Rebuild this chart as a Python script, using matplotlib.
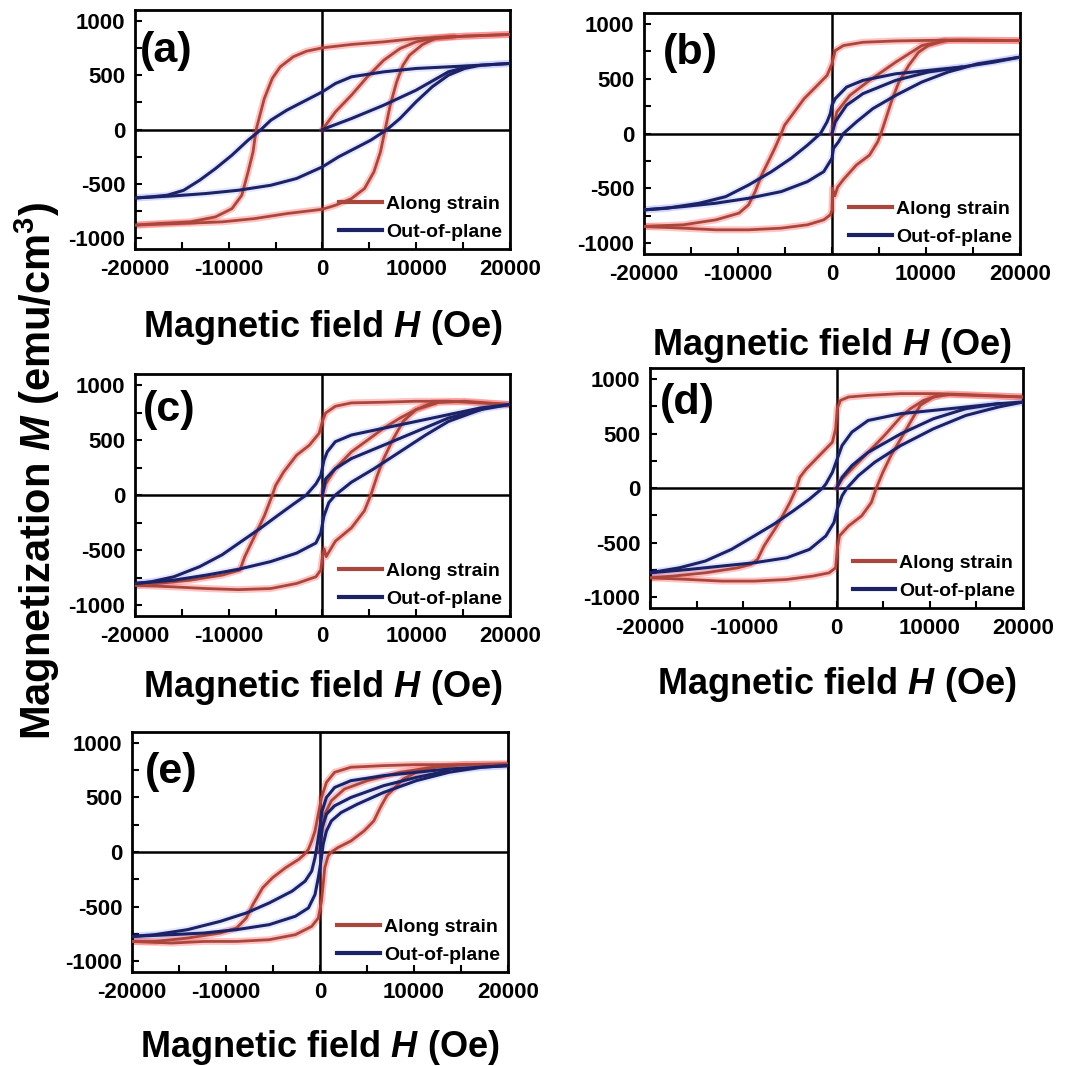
import numpy as np
import matplotlib.pyplot as plt
from matplotlib.lines import Line2D
from matplotlib.ticker import MultipleLocator

plt.rcParams['font.family'] = ['Liberation Sans', 'DejaVu Sans']
plt.rcParams['font.weight'] = 'bold'
plt.rcParams['axes.unicode_minus'] = False
plt.rcParams['mathtext.fontset'] = 'custom'
plt.rcParams['mathtext.rm'] = 'Liberation Sans:bold'
plt.rcParams['mathtext.it'] = 'Liberation Sans:italic:bold'
plt.rcParams['mathtext.bf'] = 'Liberation Sans:bold'

PANEL_LABELS = ['(a)', '(b)', '(c)', '(d)', '(e)']
SERIES_LABELS = ['Along strain', 'Out-of-plane']
X_TICKS = [-20000, -10000, 0, 10000, 20000]
Y_TICKS = [-1000, -500, 0, 500, 1000]

# (H [Oe], M [emu/cm3])
# panel (a)
A_RED_DOWN = [(20000, 875), (13450, 853), (10000, 838), (6550, 807), (3100, 783), (0, 752), (-1700, 721),
              (-3100, 670), (-4500, 577), (-5350, 470), (-6200, 285), (-7070, 0), (-7400, -206), (-7930, -390),
              (-8600, -605), (-9650, -728), (-11400, -804), (-14100, -850), (-17600, -866), (-20000, -880)]
A_RED_UP = [(-20000, -880), (-14100, -862), (-10700, -850), (-7240, -820), (-3800, -774), (0, -734), (1400, -697),
            (3100, -636), (4500, -543), (5500, -390), (6200, -206), (6700, 0), (7240, 224), (7930, 439),
            (8600, 592), (9300, 684), (10700, 783), (12070, 838), (15170, 860), (20000, 875)]
A_RED_INIT = [(0, 0), (1400, 163), (3100, 316), (4800, 485), (6550, 638), (8300, 746), (10000, 807),
              (11700, 838), (14000, 858)]
A_BLUE_DOWN = [(20000, 608), (16900, 592), (13450, 577), (10000, 562), (6550, 531), (3100, 485), (1400, 424),
               (0, 347), (-2070, 255), (-3800, 178), (-5500, 86), (-6550, 0), (-7930, -98), (-9650, -236),
               (-11400, -359), (-13100, -467), (-14800, -559), (-16550, -605), (-18300, -620), (-20000, -630)]
A_BLUE_UP = [(-20000, -630), (-15860, -611), (-12400, -589), (-8970, -559), (-5500, -513), (-2760, -451),
             (0, -344), (1720, -252), (3450, -175), (5170, -98), (6900, 0), (8280, 101), (10000, 255),
             (11720, 393), (13450, 500), (15170, 562), (16900, 592), (20000, 608)]
A_BLUE_INIT = [(0, 0), (3100, 101), (6550, 224), (10000, 362), (13450, 531), (15500, 577)]

# panel (b)
B_RED_DOWN = [(20000, 848), (13740, 855), (10260, 850), (6780, 845), (3300, 833), (1220, 803), (350, 757),
              (0, 636), (-520, 530), (-1560, 439), (-2960, 318), (-4000, 197), (-5040, 76), (-5390, 0),
              (-6090, -136), (-6780, -258), (-7480, -379), (-8170, -530), (-8870, -651), (-9900, -727),
              (-12350, -788), (-15800, -833), (-20000, -848)]
B_RED_UP = [(-20000, -848), (-15800, -864), (-12350, -879), (-8870, -879), (-5390, -864), (-2600, -833),
            (-870, -788), (-170, -742), (0, -700), (60, -500), (300, -570), (600, -490), (1220, -420),
            (2600, -288), (4000, -197), (4870, -76), (5220, 0), (5740, 136), (6430, 318), (7130, 470),
            (8170, 621), (9220, 742), (10260, 803), (12000, 848), (20000, 848)]
B_RED_INIT = [(0, 0), (520, 197), (1910, 348), (4000, 485), (6780, 651), (9570, 803), (12000, 845)]
B_BLUE_DOWN = [(20000, 697), (17200, 651), (13740, 606), (10260, 576), (6780, 545), (3300, 485), (1560, 424),
               (350, 318), (0, 258), (-170, 182), (-520, 106), (-1220, 0), (-2600, -106), (-4350, -227),
               (-6430, -348), (-8870, -470), (-11300, -576), (-14090, -636), (-17560, -682), (-20000, -697)]
B_BLUE_UP = [(-20000, -697), (-15830, -667), (-12350, -636), (-8870, -591), (-5390, -530), (-2610, -439),
             (-870, -348), (0, -227), (170, -136), (700, -76), (1220, 0), (2610, 106), (4350, 227),
             (6780, 348), (9570, 470), (12350, 561), (15480, 636), (20000, 697)]
B_BLUE_INIT = [(0, 0), (350, 106), (1560, 258), (3300, 364), (6780, 485), (10260, 561), (13740, 606)]

# panel (c)
C_RED_DOWN = [(20000, 823), (13450, 853), (10000, 853), (6550, 844), (3100, 838), (1380, 807), (345, 746),
              (0, 669), (-345, 562), (-1380, 454), (-2760, 362), (-4140, 209), (-5000, 86), (-5340, 0),
              (-6200, -190), (-7240, -375), (-8280, -559), (-8800, -682), (-10700, -728), (-14100, -774),
              (-17600, -804), (-20000, -820)]
C_RED_UP = [(-20000, -820), (-15860, -835), (-12400, -850), (-8970, -860), (-5520, -850), (-2760, -804),
            (-690, -743), (-170, -682), (0, -560), (200, -490), (400, -560), (1380, -420), (3100, -298),
            (4480, -144), (5170, 0), (5860, 178), (6550, 332), (7590, 516), (8620, 669), (10000, 777),
            (11700, 838), (15170, 853), (20000, 823)]
C_RED_INIT = [(0, 0), (345, 101), (1380, 240), (3100, 393), (4830, 500), (6550, 608), (8280, 700),
              (10000, 777), (12000, 830)]
C_BLUE_DOWN = [(20000, 823), (16900, 792), (13450, 731), (10000, 669), (6550, 608), (3100, 546), (1380, 485),
               (520, 393), (170, 316), (-170, 178), (-690, 101), (-1720, 0), (-3100, -83), (-4830, -190),
               (-6550, -298), (-8620, -420), (-10700, -543), (-13100, -651), (-15860, -743), (-18300, -789),
               (-20000, -804)]
C_BLUE_UP = [(-20000, -804), (-15860, -774), (-12400, -728), (-8970, -675), (-5520, -605), (-2760, -528),
             (-690, -436), (-170, -344), (170, -190), (690, -68), (1380, 0), (3100, 117), (5520, 240),
             (8280, 393), (11030, 546), (13450, 669), (16900, 777), (20000, 823)]
C_BLUE_INIT = [(0, 0), (345, 147), (1380, 240), (3100, 332), (6550, 454), (10000, 577), (13450, 700),
               (16900, 777)]

# panel (d)
D_RED_DOWN = [(20000, 835), (13860, 857), (10370, 866), (6880, 866), (3390, 850), (1290, 835), (420, 804),
              (70, 728), (-100, 543), (-450, 420), (-1150, 359), (-2200, 267), (-3250, 175), (-3940, 98),
              (-4290, 0), (-5000, -132), (-5690, -240), (-6390, -347), (-7090, -439), (-7780, -531),
              (-8480, -654), (-9180, -700), (-10580, -731), (-14070, -777), (-17560, -807), (-20000, -823)]
D_RED_UP = [(-20000, -823), (-15810, -838), (-12320, -853), (-8830, -853), (-5340, -838), (-2550, -807),
            (-800, -777), (-100, -731), (70, -562), (310, -439), (1290, -347), (2690, -255), (3730, -132),
            (4260, 0), (4960, 144), (5830, 298), (6880, 451), (7920, 605), (8970, 758), (10370, 835),
            (12110, 857), (20000, 835)]
D_RED_INIT = [(0, 0), (590, 83), (1640, 175), (3390, 328), (5130, 482), (6880, 651), (7920, 728),
              (9320, 804), (11000, 850)]
D_BLUE_DOWN = [(20000, 789), (17350, 774), (13860, 743), (10370, 712), (6880, 682), (3390, 620), (1640, 513),
               (590, 390), (70, 267), (-450, 144), (-1150, 37), (-1500, 0), (-2900, -101), (-4640, -209),
               (-6740, -332), (-8830, -439), (-11270, -562), (-14070, -669), (-16860, -731), (-20000, -777)]
D_BLUE_UP = [(-20000, -777), (-15810, -746), (-12320, -715), (-8830, -685), (-5340, -639), (-2900, -562),
             (-1150, -439), (-280, -316), (70, -193), (590, -71), (1120, 0), (2340, 114), (4080, 236),
             (6880, 390), (10370, 543), (13860, 666), (17350, 743), (20000, 789)]
D_BLUE_INIT = [(0, 0), (590, 98), (1640, 206), (3390, 328), (6880, 497), (10370, 635), (13860, 728),
               (17350, 774)]

# panel (e)
E_RED_DOWN = [(20000, 807), (13740, 801), (10260, 801), (6780, 792), (3300, 777), (1570, 731), (700, 639),
              (170, 500), (-170, 347), (-520, 193), (-870, 101), (-1220, 25), (-1570, -15), (-2260, -68),
              (-3650, -144), (-5040, -236), (-6090, -328), (-7130, -482), (-7830, -605), (-8870, -697),
              (-10610, -743), (-14090, -789), (-17570, -820), (-20000, -820)]
E_RED_UP = [(-20000, -820), (-15830, -835), (-12350, -820), (-8870, -820), (-5390, -804), (-2610, -758),
            (-870, -682), (-170, -605), (170, -451), (350, -298), (520, -144), (870, -37), (1220, 0),
            (1910, 40), (3300, 101), (4700, 193), (5740, 285), (6430, 408), (7130, 516), (7830, 577),
            (8870, 669), (10260, 731), (12350, 777), (15480, 801), (20000, 807)]
E_RED_INIT = [(0, 0), (170, 163), (520, 347), (1220, 470), (2610, 577), (5040, 654), (8520, 731), (12000, 777)]
E_BLUE_DOWN = [(20000, 792), (13740, 761), (10260, 731), (6780, 700), (3300, 654), (1570, 592), (700, 500),
               (240, 378), (0, 224), (-280, 71), (-520, -52), (-870, -175), (-1570, -267), (-2960, -359),
               (-5390, -467), (-7830, -559), (-10610, -636), (-14090, -712), (-17570, -758), (-20000, -774)]
E_BLUE_UP = [(-20000, -774), (-15830, -758), (-12350, -743), (-8870, -712), (-5390, -666), (-2610, -589),
             (-1220, -513), (-520, -390), (-170, -236), (170, -52), (350, 71), (700, 193), (1220, 285),
             (2260, 362), (4000, 439), (6780, 546), (10260, 654), (13740, 731), (17220, 777), (20000, 792)]
E_BLUE_INIT = [(0, 0), (240, 224), (700, 347), (1570, 424), (3300, 500), (6780, 608), (10260, 684),
               (13740, 746)]

PANEL_DATA = [
    ([A_RED_DOWN, A_RED_UP, A_RED_INIT], [A_BLUE_DOWN, A_BLUE_UP, A_BLUE_INIT]),
    ([B_RED_DOWN, B_RED_UP, B_RED_INIT], [B_BLUE_DOWN, B_BLUE_UP, B_BLUE_INIT]),
    ([C_RED_DOWN, C_RED_UP, C_RED_INIT], [C_BLUE_DOWN, C_BLUE_UP, C_BLUE_INIT]),
    ([D_RED_DOWN, D_RED_UP, D_RED_INIT], [D_BLUE_DOWN, D_BLUE_UP, D_BLUE_INIT]),
    ([E_RED_DOWN, E_RED_UP, E_RED_INIT], [E_BLUE_DOWN, E_BLUE_UP, E_BLUE_INIT]),
]

# layout (figure fractions) and per-panel tweaks
AX_RECTS = [(0.125, 0.7664, 0.347, 0.2242),
            (0.5963, 0.7617, 0.348, 0.2261),
            (0.125, 0.4221, 0.347, 0.2270),
            (0.6019, 0.4296, 0.3454, 0.2251),
            (0.1222, 0.0882, 0.348, 0.2251)]
LABEL_POS = [(0.013, 0.83), (0.05, 0.834), (0.02, 0.85), (0.027, 0.854), (0.035, 0.833)]
XLABEL_PAD = [20, 30, 15, 19, 18]

RED, RED_GLOW = '#a9473d', '#ff2a2a'
BLUE, BLUE_GLOW = '#1c2266', '#3a4cff'


def draw_branch(ax, pts, color, glow, glow_alpha, lw):
    h, m = np.array(pts, dtype=float).T
    ax.plot(h, m, color=glow, lw=lw + 3.0, alpha=glow_alpha, solid_capstyle='round', zorder=2)
    ax.plot(h, m, color=color, lw=lw, zorder=3)


fig = plt.figure(figsize=(10.8, 10.66), dpi=100)

for i, (red_curves, blue_curves) in enumerate(PANEL_DATA):
    ax = fig.add_axes(AX_RECTS[i])
    ax.axhline(0, color='black', lw=1.8, zorder=1)
    ax.axvline(0, color='black', lw=1.8, zorder=1)

    for pts in red_curves:
        draw_branch(ax, pts, RED, RED_GLOW, 0.28, 2.0)
    for pts in blue_curves:
        draw_branch(ax, pts, BLUE, BLUE_GLOW, 0.12, 2.2)

    ax.set_xlim(-20000, 20000)
    ax.set_ylim(-1100, 1100)
    ax.set_xticks(X_TICKS)
    ax.set_yticks(Y_TICKS)
    ax.xaxis.set_minor_locator(MultipleLocator(5000))
    ax.yaxis.set_minor_locator(MultipleLocator(250))
    ax.tick_params(which='both', direction='in', top=False, right=False, width=1.5, labelsize=16, pad=7)
    ax.tick_params(which='major', length=5)
    ax.tick_params(which='minor', length=5)
    for sp in ax.spines.values():
        sp.set_linewidth(2.0)

    ax.text(LABEL_POS[i][0], LABEL_POS[i][1], PANEL_LABELS[i], transform=ax.transAxes,
            fontsize=31, fontweight='bold', ha='left', va='center')
    ax.set_xlabel('Magnetic field $\\mathit{H}$ (Oe)', fontsize=26, fontweight='bold', labelpad=XLABEL_PAD[i])

    handles = [Line2D([], [], color=RED, lw=3), Line2D([], [], color=BLUE, lw=3)]
    ax.legend(handles, SERIES_LABELS, loc='lower right', frameon=False, fontsize=14,
              handlelength=2.2, handletextpad=0.2, labelspacing=0.55, borderaxespad=0.2, borderpad=0.2)

fig.text(0.035, 0.558, 'Magnetization $\\mathit{M}$ (emu/cm$^{3}$)', rotation=90, fontsize=30,
         fontweight='bold', ha='center', va='center')

fig.savefig('out.png', dpi=100)
